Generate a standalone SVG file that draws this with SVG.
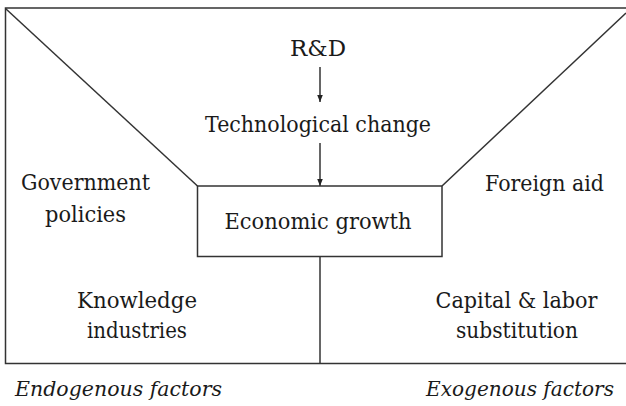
<svg xmlns="http://www.w3.org/2000/svg" width="626" height="406" viewBox="0 0 626 406">
  <style>
    .ln { fill: none; stroke: #333; stroke-width: 1.5; }
    .lbl { font-family: "DejaVu Serif", "Liberation Serif", serif; font-size: 22px; fill: #1a1a1a; text-anchor: middle; }
    .it { font-style: italic; text-anchor: start; font-size: 21px; }
  </style>
  <defs>
    <marker id="arrow" viewBox="0 0 10 10" refX="10" refY="5" markerWidth="7" markerHeight="7" markerUnits="userSpaceOnUse" orient="auto">
      <path d="M0,1 L10,5 L0,9 Z" fill="#222"/>
    </marker>
  </defs>
  <rect width="626" height="406" fill="#fff"/>

  <!-- outer frame and funnel walls -->
  <g id="frame" class="ln">
    <path d="M626,8 H5.5 V363.5 H626"/>
    <path d="M5.5,8.5 L197.5,186"/>
    <path d="M442,186 L626,13"/>
    <path d="M320,256.5 V363.5"/>
  </g>

  <g id="rd">
    <text class="lbl" x="318" y="56" textLength="56" lengthAdjust="spacingAndGlyphs">R&amp;D</text>
  </g>
  <g id="tech">
    <text class="lbl" x="318" y="132" textLength="226" lengthAdjust="spacingAndGlyphs">Technological change</text>
  </g>
  <g id="growth">
    <rect class="ln" x="197.5" y="186" width="244.5" height="70.5" fill="#fff"/>
    <text class="lbl" x="318" y="229" textLength="187" lengthAdjust="spacingAndGlyphs">Economic growth</text>
  </g>
  <g id="gov">
    <text class="lbl" x="85.5" y="190" textLength="129" lengthAdjust="spacingAndGlyphs">Government</text>
    <text class="lbl" x="85.5" y="221.5" textLength="81" lengthAdjust="spacingAndGlyphs">policies</text>
  </g>
  <g id="aid">
    <text class="lbl" x="544.5" y="190.5" textLength="119" lengthAdjust="spacingAndGlyphs">Foreign aid</text>
  </g>
  <g id="knowledge">
    <text class="lbl" x="137" y="308" textLength="120" lengthAdjust="spacingAndGlyphs">Knowledge</text>
    <text class="lbl" x="137" y="338" textLength="100" lengthAdjust="spacingAndGlyphs">industries</text>
  </g>
  <g id="capital">
    <text class="lbl" x="516.5" y="308" textLength="162" lengthAdjust="spacingAndGlyphs">Capital &amp; labor</text>
    <text class="lbl" x="517" y="338" textLength="122" lengthAdjust="spacingAndGlyphs">substitution</text>
  </g>
  <g id="endo">
    <text class="lbl it" x="15" y="396" textLength="207" lengthAdjust="spacingAndGlyphs">Endogenous factors</text>
  </g>
  <g id="exo">
    <text class="lbl it" x="426" y="396" textLength="188" lengthAdjust="spacingAndGlyphs">Exogenous factors</text>
  </g>

  <!-- connectors -->
  <g id="connectors" class="ln">
    <line x1="320" y1="67" x2="320" y2="102" marker-end="url(#arrow)"/>
    <line x1="320" y1="143" x2="320" y2="186" marker-end="url(#arrow)"/>
  </g>
</svg>
